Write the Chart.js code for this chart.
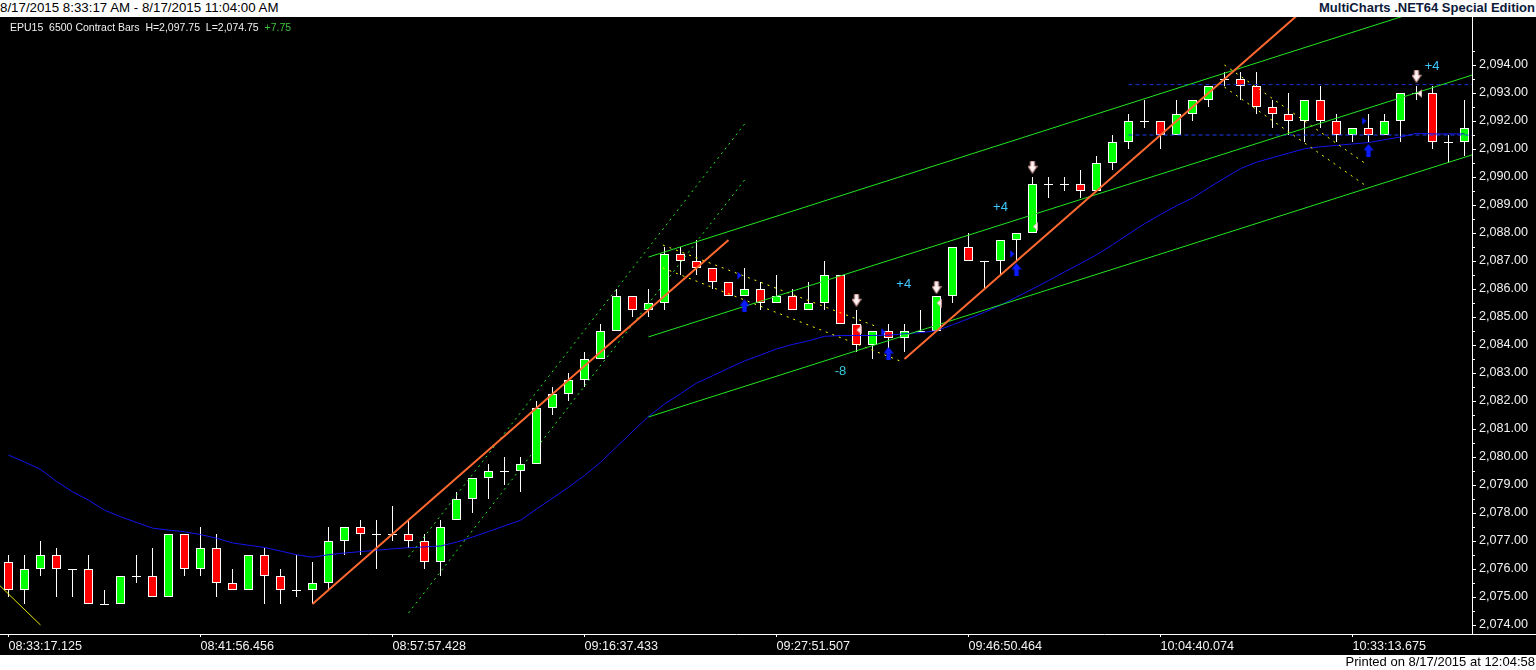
<!DOCTYPE html>
<html>
<head>
<meta charset="utf-8">
<script src="https://cdn.jsdelivr.net/npm/chart.js@4"></script>
<style>
  html, body { margin: 0; padding: 0; background: #fff; width: 1536px; height: 670px; overflow: hidden; }
  body { position: relative; font-family: "Liberation Sans", Arial, sans-serif; }
  #title { position: absolute; left: 0; top: 0; font-size: 13.3px; line-height: 16px; color: #000; white-space: pre; }
  #brand { position: absolute; right: 1px; top: 0; font-size: 13px; line-height: 16px; font-weight: bold; color: #0d1a3a; white-space: pre; }
  #wrap { position: absolute; left: 0; top: 17px; width: 1536px; height: 638px; background: #000; }
  #info { position: absolute; left: 10px; top: 21px; font-size: 10.5px; line-height: 13px; color: #f0f0f0; white-space: pre; z-index: 2; }
  #info span { color: #3ac43a; }
  #footer { position: absolute; right: 1px; top: 654px; font-size: 13px; line-height: 15px; color: #000; white-space: pre; }
  canvas { display: block; }
</style>
</head>
<body>
<div id="title">8/17/2015 8:33:17 AM - 8/17/2015 11:04:00 AM</div>
<div id="brand">MultiCharts .NET64 Special Edition</div>
<div id="wrap"><canvas id="c" width="1536" height="638"></canvas></div>
<div id="info">EPU15  6500 Contract Bars  H=2,097.75  L=2,074.75  <span>+7.75</span></div>
<div id="footer">Printed on 8/17/2015 at 12:04:58</div>
<script>
// ---------------- data ----------------
const opens = [2076.25,2075.25,2076.0,2076.5,2076.0,2076.0,2074.75,2074.75,2075.75,2075.75,
 2075.0,2077.25,2076.0,2076.75,2075.5,2075.25,2076.5,2075.75,2075.25,2075.25,
 2075.5,2077.0,2077.5,2077.25,2077.25,2077.25,2077.0,2076.25,2077.75,2078.5,
 2079.25,2079.5,2079.5,2079.75,2081.75,2082.25,2082.75,2083.5,2084.5,2085.75,
 2085.25,2085.5,2087.25,2087.0,2086.75,2086.25,2085.75,2086.0,2085.5,2085.75,
 2085.25,2085.5,2086.5,2084.75,2084.0,2084.5,2084.25,2084.5,2084.5,2085.75,
 2087.5,2087.0,2087.0,2087.75,2088.0,2089.75,2089.75,2089.75,2089.5,2090.5,
 2091.25,2092.0,2092.0,2091.5,2092.25,2092.75,2093.5,2093.5,2093.25,2092.5,
 2092.25,2092.0,2092.75,2092.0,2091.5,2091.75,2091.5,2092.0,2093.0,2093.0,
 2091.25,2091.25];
const highs = [2076.5,2076.5,2077.0,2076.75,2076.0,2076.5,2075.25,2075.75,2076.5,2076.75,
 2077.25,2077.25,2077.5,2077.25,2076.0,2076.5,2076.75,2076.0,2076.5,2076.25,
 2077.5,2077.5,2077.75,2077.75,2078.25,2077.75,2077.25,2077.75,2078.75,2079.25,
 2079.75,2080.0,2080.0,2082.0,2082.5,2083.0,2083.75,2084.75,2086.0,2085.75,
 2086.0,2087.5,2087.5,2087.75,2086.75,2086.25,2086.75,2086.25,2086.5,2086.0,
 2086.25,2087.0,2086.5,2085.25,2084.5,2084.75,2084.75,2085.25,2085.75,2087.5,
 2088.0,2087.0,2087.75,2088.0,2090.0,2090.0,2090.0,2090.25,2090.75,2091.5,
 2092.25,2092.75,2092.0,2092.75,2092.75,2093.25,2093.75,2093.75,2093.75,2092.75,
 2093.0,2092.75,2093.25,2092.25,2091.75,2092.25,2092.25,2093.0,2093.25,2093.25,
 2091.5,2092.75];
const lows = [2075.0,2074.75,2075.75,2075.0,2075.0,2074.75,2074.75,2074.75,2075.5,2075.0,
 2075.0,2075.75,2075.75,2075.0,2075.25,2075.25,2074.75,2074.75,2075.0,2074.75,
 2075.25,2076.5,2076.5,2076.0,2077.0,2076.75,2076.0,2075.75,2077.75,2078.0,
 2078.5,2079.0,2078.75,2079.75,2081.5,2082.0,2082.5,2083.5,2084.5,2085.0,
 2085.0,2085.25,2086.5,2086.5,2086.0,2085.75,2085.75,2085.25,2085.5,2085.25,
 2085.25,2085.25,2084.75,2083.75,2083.5,2083.5,2083.75,2084.5,2084.5,2085.5,
 2087.0,2086.0,2086.5,2087.0,2088.0,2089.25,2089.5,2089.25,2089.5,2090.25,
 2091.0,2091.75,2091.0,2091.5,2092.0,2092.5,2093.25,2092.75,2092.25,2091.75,
 2091.5,2091.25,2091.75,2091.25,2091.25,2091.25,2091.5,2091.25,2092.75,2091.0,
 2090.5,2090.75];
const closes = [2075.25,2076.0,2076.5,2076.0,2076.0,2074.75,2074.75,2075.75,2075.75,2075.0,
 2077.25,2076.0,2076.75,2075.5,2075.25,2076.5,2075.75,2075.25,2075.25,2075.5,
 2077.0,2077.5,2077.25,2077.25,2077.25,2077.0,2076.25,2077.5,2078.5,2079.25,
 2079.5,2079.5,2079.75,2081.75,2082.25,2082.75,2083.5,2084.5,2085.75,2085.25,
 2085.5,2087.25,2087.0,2086.75,2086.25,2085.75,2086.0,2085.5,2085.75,2085.25,
 2085.5,2086.5,2084.75,2084.0,2084.5,2084.25,2084.5,2084.5,2085.75,2087.5,
 2087.0,2087.0,2087.75,2088.0,2089.75,2089.75,2089.75,2089.5,2090.5,2091.25,
 2092.0,2092.0,2091.5,2092.25,2092.75,2093.25,2093.5,2093.25,2092.5,2092.25,
 2092.0,2092.75,2092.0,2091.5,2091.75,2091.5,2092.0,2093.0,2093.0,2091.25,
 2091.25,2091.75];
// moving average (blue) read per bar
const movingAvg = [2080.07,2079.82,2079.56,2079.13,2078.76,2078.46,2078.10,2077.87,2077.66,2077.46,
 2077.39,2077.33,2077.23,2077.10,2076.93,2076.85,2076.77,2076.64,2076.51,2076.42,
 2076.51,2076.57,2076.62,2076.67,2076.72,2076.76,2076.79,2076.82,2076.96,2077.14,
 2077.34,2077.54,2077.74,2078.14,2078.53,2078.92,2079.34,2079.81,2080.36,2080.91,
 2081.45,2081.89,2082.26,2082.64,2082.90,2083.17,2083.43,2083.64,2083.86,2084.02,
 2084.15,2084.31,2084.34,2084.34,2084.34,2084.35,2084.40,2084.44,2084.51,2084.72,
 2084.94,2085.17,2085.42,2085.71,2086.00,2086.30,2086.61,2086.91,2087.22,2087.58,
 2087.96,2088.33,2088.66,2088.97,2089.25,2089.61,2089.96,2090.30,2090.53,2090.69,
 2090.85,2091.01,2091.08,2091.13,2091.18,2091.23,2091.33,2091.43,2091.56,2091.54,
 2091.54,2091.54];

// x axis tick labels (bar index -> time)
const xTickIdx = [0, 12, 24, 36, 48, 60, 72, 84];
const xTickLabels = ["08:33:17.125","08:41:56.456","08:57:57.428","09:16:37.433",
                     "09:27:51.507","09:46:50.464","10:04:40.074","10:33:13.675"];
// y axis labelled prices
const yTickFirst = 2074, yTickLast = 2094;

// drawing tools: [barIndex, price] endpoints
const orangeLine1 = [[19, 2074.75], [45, 2087.75]];
const orangeLine2 = [[56, 2083.5], [81, 2096.0]];
const greenDashLow = [[25, 2074.43], [46, 2089.89]];
const greenDashHigh = [[25, 2076.43], [46, 2091.89]];
const channelTop = [[40, 2087.14], [91.47, 2096.53]];
const channelMid = [[40, 2084.29], [91.47, 2093.64]];
const channelLow = [[40, 2081.43], [91.47, 2090.79]];
const yellowLeft = [[-0.53, 2075.4], [2, 2074.0]];
const yellowPull1Top = [[40.9, 2087.57], [54.3, 2084.65]];
const yellowPull1Bot = [[40.9, 2086.75], [55.72, 2083.43]];
const yellowPull2Top = [[76, 2094.0], [84.78, 2090.49]];
const yellowPull2Bot = [[76, 2093.21], [84.78, 2089.71]];
const blueLevelLow = [[70, 2091.5], [91.47, 2091.5]];
const blueLevelHigh = [[70, 2093.3], [91.47, 2093.3]];

// markers
const downArrowIdx = [53, 58, 64, 88];
const downArrowPrice = [2085.6, 2086.05, 2090.35, 2093.6];
const upArrowIdx = [46, 55, 63, 85];
const upArrowPrice = [2085.4, 2083.7, 2086.7, 2090.95];
const rightTriIdx = [45.7, 54.7, 62.75, 84.75];
const rightTriPrice = [2086.48, 2084.46, 2087.25, 2092.0];
const leftTriIdx = [53.13, 58.14, 64.16, 88.18];
const leftTriPrice = [2084.54, 2085.5, 2088.23, 2092.98];
const noteIdx = [52, 55.95, 62, 88.98];
const notePrice = [2083.05, 2086.15, 2088.9, 2093.94];
const noteText = ['-8', '+4', '+4', '+4'];

// ---------------- helpers ----------------
const FONT = '"Liberation Sans", Arial, sans-serif';
const X_MIN = -8.5 / 16, X_MAX = X_MIN + 1472 / 16;
const Y_MAX = 2094 + 48 / 28, Y_MIN = 2094 - 569 / 28;

function pts(seg) { return seg.map(p => ({x: p[0], y: p[1]})); }

function makeImg(w, h, draw) {
  const c = document.createElement('canvas'); c.width = w; c.height = h;
  draw(c.getContext('2d')); return c;
}
const downArrowImg = makeImg(10, 13, g => {
  g.beginPath();
  g.moveTo(3, 0.5); g.lineTo(7, 0.5); g.lineTo(7, 5.5); g.lineTo(9.5, 5.5); g.lineTo(5, 12.5);
  g.lineTo(0.5, 5.5); g.lineTo(3, 5.5); g.closePath();
  g.fillStyle = '#fff2f2'; g.fill(); g.strokeStyle = 'rgba(210,150,150,0.9)'; g.lineWidth = 1; g.stroke();
});
const upArrowImg = makeImg(10, 13, g => {
  g.beginPath();
  g.moveTo(5, 0); g.lineTo(10, 6.5); g.lineTo(7.2, 6.5); g.lineTo(7.2, 13); g.lineTo(2.8, 13);
  g.lineTo(2.8, 6.5); g.lineTo(0, 6.5); g.closePath();
  g.fillStyle = '#0a1cff'; g.fill();
});
const rightTriImg = makeImg(6, 9, g => {
  g.beginPath(); g.moveTo(0.5, 0.5); g.lineTo(5, 4.5); g.lineTo(0.5, 8.5); g.closePath();
  g.fillStyle = '#0a1cff'; g.fill();
});
const leftTriImg = makeImg(6, 9, g => {
  g.beginPath(); g.moveTo(5.5, 0.5); g.lineTo(1, 4.5); g.lineTo(5.5, 8.5); g.closePath();
  g.fillStyle = '#fff0f0'; g.fill(); g.strokeStyle = 'rgba(220,160,160,0.8)'; g.lineWidth = 0.8; g.stroke();
});
const dojiImg = makeImg(9, 2, g => { g.fillStyle = '#ffffff'; g.fillRect(0, 1, 9, 1); });

const idx = opens.map((_, i) => i);
const bodyData = [], bodyColors = [], dojiData = [], wickData = [];
idx.forEach(i => {
  wickData.push({x: i, y: [lows[i], highs[i]]});
  if (opens[i] === closes[i]) {
    dojiData.push({x: i, y: opens[i]});
  } else {
    bodyData.push({x: i, y: [opens[i], closes[i]]});
    bodyColors.push(closes[i] > opens[i] ? '#00ff00' : '#ff0000');
  }
});

function lineDs(seg, color, width, dash, order) {
  return {type: 'line', data: pts(seg), borderColor: color, borderWidth: width,
          borderDash: dash || [], pointRadius: 0, fill: false, tension: 0, order: order};
}
function markerDs(xs, ys, img) {
  return {type: 'scatter', data: xs.map((v, i) => ({x: v, y: ys[i]})), pointStyle: img,
          pointRadius: 5, pointHoverRadius: 5, order: 0};
}

const overlay = {
  id: 'overlay',
  afterDatasetsDraw(chart) {
    const {ctx, scales: {x, y}, chartArea: a} = chart;
    ctx.save();
    ctx.beginPath(); ctx.rect(a.left, a.top, a.right - a.left, a.bottom - a.top); ctx.clip();
    ctx.font = '13px ' + FONT;
    ctx.textAlign = 'center'; ctx.textBaseline = 'middle';
    noteText.forEach((t, i) => {
      ctx.fillStyle = t.startsWith('-') ? '#35c8d8' : '#3cc8ff';
      ctx.fillText(t, x.getPixelForValue(noteIdx[i]), y.getPixelForValue(notePrice[i]));
    });
    ctx.restore();
  },
  afterDraw(chart) {
    const {ctx, scales: {y}, chartArea: a} = chart;
    ctx.save();
    ctx.strokeStyle = '#ffffff'; ctx.lineWidth = 1;
    ctx.beginPath();
    for (let v = yTickFirst + 0.5; v <= yTickLast + 0.5; v += 1) {
      const py = Math.round(y.getPixelForValue(v)) + 0.5;
      ctx.moveTo(a.right, py); ctx.lineTo(a.right + 3, py);
    }
    ctx.moveTo(a.right, a.bottom + 0.5); ctx.lineTo(chart.width, a.bottom + 0.5);
    ctx.stroke();
    ctx.restore();
  }
};

const chart = new Chart(document.getElementById('c'), {
  type: 'bar',
  data: {
    datasets: [
      markerDs(downArrowIdx, downArrowPrice, downArrowImg),
      markerDs(upArrowIdx, upArrowPrice, upArrowImg),
      markerDs(rightTriIdx, rightTriPrice, rightTriImg),
      markerDs(leftTriIdx, leftTriPrice, leftTriImg),
      lineDs(orangeLine1, '#ff6a30', 2, null, 1),
      lineDs(orangeLine2, '#ff6a30', 2, null, 1),
      lineDs(greenDashLow, '#22ee22', 1, [2, 4], 1),
      lineDs(greenDashHigh, '#22ee22', 1, [2, 4], 1),
      lineDs(channelTop, '#22e622', 1, null, 1),
      lineDs(channelMid, '#22e622', 1, null, 1),
      lineDs(channelLow, '#22e622', 1, null, 1),
      lineDs(yellowLeft, '#e6e600', 1, null, 1),
      lineDs(yellowPull1Top, '#ffff00', 1, [2, 5], 1),
      lineDs(yellowPull1Bot, '#ffff00', 1, [2, 5], 1),
      lineDs(yellowPull2Top, '#ffff00', 1, [2, 5], 1),
      lineDs(yellowPull2Bot, '#ffff00', 1, [2, 5], 1),
      lineDs(blueLevelLow, '#1a3cff', 1, [4, 3], 1),
      lineDs(blueLevelHigh, '#1a30d0', 1, [4, 3], 1),
      {type: 'line', data: movingAvg.map((v, i) => ({x: i, y: v})), borderColor: '#1414ee',
       borderWidth: 1, pointRadius: 0, fill: false, tension: 0, order: 2},
      {type: 'scatter', data: dojiData, pointStyle: dojiImg, pointRadius: 5, order: 3},
      {type: 'bar', data: bodyData, backgroundColor: bodyColors, borderColor: '#ffffff',
       borderWidth: 1, borderSkipped: false, barThickness: 9, grouped: false, inflateAmount: 0, order: 3},
      {type: 'bar', data: wickData, backgroundColor: '#ffffff', borderWidth: 0,
       barThickness: 1, grouped: false, inflateAmount: 0, order: 4}
    ]
  },
  options: {
    responsive: false,
    animation: false,
    events: [],
    layout: {padding: 0, autoPadding: false},
    plugins: {legend: {display: false}, tooltip: {enabled: false}, title: {display: false}},
    scales: {
      x: {
        type: 'linear', min: X_MIN, max: X_MAX, offset: false,
        afterBuildTicks: s => { s.ticks = xTickIdx.map(v => ({value: v})); },
        afterFit: s => { s.height = 21; s.paddingLeft = 0; s.paddingRight = 0; },
        ticks: {
          align: 'start', padding: 2, autoSkip: false, maxRotation: 0, color: '#f2f2f2',
          font: {family: FONT, size: 12.6},
          callback: v => { const k = xTickIdx.indexOf(v); return k >= 0 ? xTickLabels[k] : ''; }
        },
        grid: {display: true, offset: false, drawOnChartArea: false, drawTicks: true, tickLength: 3, tickColor: '#ffffff'},
        border: {display: true, color: '#ffffff', width: 1}
      },
      y: {
        type: 'linear', position: 'right', min: Y_MIN, max: Y_MAX,
        afterBuildTicks: s => {
          const t = [];
          for (let v = yTickFirst; v <= yTickLast; v += 1) t.push({value: v});
          s.ticks = t;
        },
        afterFit: s => { s.width = 64; s.paddingTop = 0; s.paddingBottom = 0; },
        ticks: {
          padding: 3, color: '#f2f2f2', font: {family: FONT, size: 12.6},
          callback: v => v.toLocaleString('en-US', {minimumFractionDigits: 2, maximumFractionDigits: 2})
        },
        grid: {display: true, drawOnChartArea: false, drawTicks: true, tickLength: 4, tickColor: '#ffffff'},
        border: {display: true, color: '#ffffff', width: 1}
      }
    }
  },
  plugins: [overlay]
});
</script>
</body>
</html>
